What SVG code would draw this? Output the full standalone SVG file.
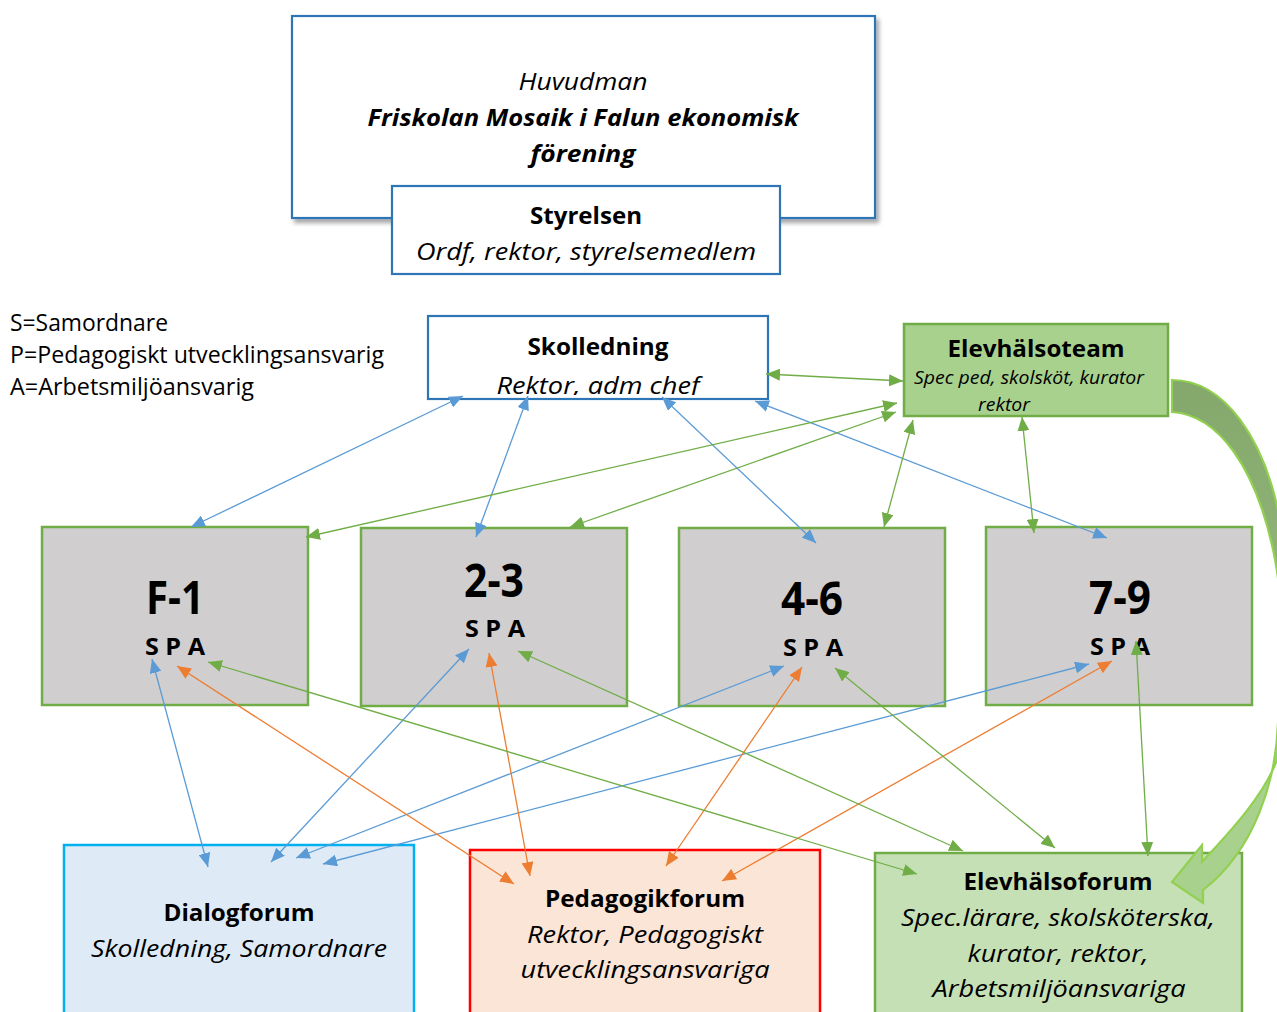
<svg xmlns="http://www.w3.org/2000/svg" width="1277" height="1012" viewBox="0 0 1277 1012">
<defs>
<style>
text{font-family:"Open Sans","Noto Sans","Liberation Sans",sans-serif;fill:#000;text-anchor:middle}
.b{font-weight:bold}
.i{font-style:italic}
.lg{text-anchor:start;font-size:24px}
.t{font-size:24px}
.blue{fill:#fff;stroke:#2e75b6;stroke-width:2.2}
.grade{fill:#d0cece;stroke:#70ad47;stroke-width:2.5}
.big{font-size:46px;font-weight:bold}
.spa{font-size:24px;font-weight:bold}
.cb{stroke:#5b9bd5;stroke-width:1.3;fill:none;marker-start:url(#mb);marker-end:url(#mb)}
.co{stroke:#ed7d31;stroke-width:1.3;fill:none;marker-start:url(#mo);marker-end:url(#mo)}
.cg{stroke:#70ad47;stroke-width:1.3;fill:none;marker-start:url(#mg);marker-end:url(#mg)}
</style>
<marker id="mb" viewBox="0 0 14 12" refX="14" refY="6" markerWidth="14" markerHeight="12" markerUnits="userSpaceOnUse" orient="auto-start-reverse"><path d="M0,0 L14,6 L0,12 Z" fill="#5b9bd5"/></marker>
<marker id="mo" viewBox="0 0 14 12" refX="14" refY="6" markerWidth="14" markerHeight="12" markerUnits="userSpaceOnUse" orient="auto-start-reverse"><path d="M0,0 L14,6 L0,12 Z" fill="#ed7d31"/></marker>
<marker id="mg" viewBox="0 0 14 12" refX="14" refY="6" markerWidth="14" markerHeight="12" markerUnits="userSpaceOnUse" orient="auto-start-reverse"><path d="M0,0 L14,6 L0,12 Z" fill="#70ad47"/></marker>
<filter id="sh" x="-5%" y="-5%" width="115%" height="120%"><feDropShadow dx="3" dy="4" stdDeviation="2" flood-color="#000" flood-opacity="0.35"/></filter>
<clipPath id="skclip"><rect x="428" y="316" width="340" height="79"/></clipPath>
<linearGradient id="cag" x1="0" y1="0" x2="0" y2="1"><stop offset="0" stop-color="#84a76b"/><stop offset="0.45" stop-color="#92b779"/><stop offset="0.6" stop-color="#a9d18e"/><stop offset="1" stop-color="#a9d18e"/></linearGradient>
</defs>
<rect width="1277" height="1012" fill="#fff"/>

<g id="huvudman">
<rect class="blue" x="292" y="16" width="583" height="202" filter="url(#sh)"/>
<text class="t i" x="583" y="90" textLength="129" lengthAdjust="spacingAndGlyphs">Huvudman</text>
<text class="t b i" x="583" y="126" textLength="431" lengthAdjust="spacingAndGlyphs">Friskolan Mosaik i Falun ekonomisk</text>
<text class="t b i" x="583" y="162" textLength="105" lengthAdjust="spacingAndGlyphs">förening</text>
</g>
<g id="styrelsen">
<rect class="blue" x="392" y="186" width="388" height="88"/>
<text class="t b" x="586" y="224" textLength="112" lengthAdjust="spacingAndGlyphs">Styrelsen</text>
<text class="t i" x="586" y="260" textLength="340" lengthAdjust="spacingAndGlyphs">Ordf, rektor, styrelsemedlem</text>
</g>
<g id="legend">
<text class="lg" x="10" y="331" textLength="158" lengthAdjust="spacingAndGlyphs">S=Samordnare</text>
<text class="lg" x="10" y="363" textLength="374" lengthAdjust="spacingAndGlyphs">P=Pedagogiskt utvecklingsansvarig</text>
<text class="lg" x="10" y="395" textLength="244" lengthAdjust="spacingAndGlyphs">A=Arbetsmiljöansvarig</text>
</g>
<g id="skolledning">
<rect class="blue" x="428" y="316" width="340" height="83"/>
<text class="t b" x="598" y="355" textLength="141" lengthAdjust="spacingAndGlyphs">Skolledning</text>
<text class="t i" x="598" y="394" textLength="203" lengthAdjust="spacingAndGlyphs" clip-path="url(#skclip)">Rektor, adm chef</text>
</g>
<g id="elevhalsoteam">
<rect x="904" y="324" width="264" height="92" fill="#a9d18e" stroke="#70ad47" stroke-width="2.5"/>
<text class="b" style="font-size:23px" x="1036" y="357" textLength="177" lengthAdjust="spacingAndGlyphs">Elevhälsoteam</text>
<text class="i" style="font-size:18px" x="1029" y="384" textLength="230" lengthAdjust="spacingAndGlyphs">Spec ped, skolsköt, kurator</text>
<text class="i" style="font-size:18px" x="1004" y="411" textLength="52" lengthAdjust="spacingAndGlyphs">rektor</text>
</g>
<g id="f-1">
<rect class="grade" x="42" y="527" width="266" height="178"/>
<text class="big" x="175" y="614" textLength="58" lengthAdjust="spacingAndGlyphs">F-1</text>
<text class="spa" x="175" y="655" textLength="60" lengthAdjust="spacingAndGlyphs">S P A</text>
</g>
<g id="g2-3">
<rect class="grade" x="361" y="528" width="266" height="178"/>
<text class="big" x="494" y="597" textLength="60" lengthAdjust="spacingAndGlyphs">2-3</text>
<text class="spa" x="495" y="637" textLength="60" lengthAdjust="spacingAndGlyphs">S P A</text>
</g>
<g id="g4-6">
<rect class="grade" x="679" y="528" width="266" height="178"/>
<text class="big" x="812" y="615" textLength="62" lengthAdjust="spacingAndGlyphs">4-6</text>
<text class="spa" x="813" y="656" textLength="60" lengthAdjust="spacingAndGlyphs">S P A</text>
</g>
<g id="g7-9">
<rect class="grade" x="986" y="527" width="266" height="178"/>
<text class="big" x="1120" y="614" textLength="62" lengthAdjust="spacingAndGlyphs">7-9</text>
<text class="spa" x="1120" y="655" textLength="60" lengthAdjust="spacingAndGlyphs">S P A</text>
</g>
<g id="dialogforum">
<rect x="64" y="845" width="350" height="190" fill="#deebf7" stroke="#00b0f0" stroke-width="2.5"/>
<text class="t b" x="239" y="921" textLength="151" lengthAdjust="spacingAndGlyphs">Dialogforum</text>
<text class="t i" x="239" y="957" textLength="296" lengthAdjust="spacingAndGlyphs">Skolledning, Samordnare</text>
</g>
<g id="pedagogikforum">
<rect x="470" y="850" width="350" height="190" fill="#fbe5d6" stroke="#ff0000" stroke-width="2.5"/>
<text class="t b" x="645" y="907" textLength="200" lengthAdjust="spacingAndGlyphs">Pedagogikforum</text>
<text class="t i" x="645" y="943" textLength="236" lengthAdjust="spacingAndGlyphs">Rektor, Pedagogiskt</text>
<text class="t i" x="645" y="978" textLength="249" lengthAdjust="spacingAndGlyphs">utvecklingsansvariga</text>
</g>
<g id="elevhalsoforum">
<rect x="875" y="853" width="367" height="190" fill="#c5e0b4" stroke="#70ad47" stroke-width="2.5"/>
<text class="t b" x="1058" y="890" textLength="189" lengthAdjust="spacingAndGlyphs">Elevhälsoforum</text>
<text class="t i" x="1058" y="926" textLength="314" lengthAdjust="spacingAndGlyphs">Spec.lärare, skolsköterska,</text>
<text class="t i" x="1058" y="962" textLength="181" lengthAdjust="spacingAndGlyphs">kurator, rektor,</text>
<text class="t i" x="1059" y="997" textLength="253" lengthAdjust="spacingAndGlyphs">Arbetsmiljöansvariga</text>
</g>

<g id="connectors">
<line class="cb" x1="463" y1="396" x2="191" y2="527"/>
<line class="cb" x1="528" y1="396" x2="476" y2="537"/>
<line class="cb" x1="662" y1="397" x2="816" y2="543"/>
<line class="cb" x1="755" y1="401" x2="1107" y2="538"/>
<line class="cg" x1="766" y1="374" x2="903" y2="381"/>
<line class="cg" x1="897" y1="403" x2="306" y2="537"/>
<line class="cg" x1="896" y1="412" x2="570" y2="527"/>
<line class="cg" x1="913" y1="420" x2="884" y2="527"/>
<line class="cg" x1="1022" y1="417" x2="1034" y2="533"/>
<line class="cb" x1="152" y1="659" x2="208" y2="867"/>
<line class="cb" x1="469" y1="649" x2="271" y2="862"/>
<line class="cb" x1="784" y1="666" x2="296" y2="858"/>
<line class="cb" x1="1089" y1="664" x2="323" y2="864"/>
<line class="co" x1="177" y1="666" x2="514" y2="884"/>
<line class="co" x1="489" y1="653" x2="530" y2="876"/>
<line class="co" x1="802" y1="667" x2="666" y2="866"/>
<line class="co" x1="1112" y1="661" x2="722" y2="881"/>
<line class="cg" x1="208" y1="662" x2="917" y2="874"/>
<line class="cg" x1="518" y1="651" x2="963" y2="851"/>
<line class="cg" x1="835" y1="668" x2="1055" y2="848"/>
<line class="cg" x1="1136" y1="641" x2="1148" y2="856"/>
</g>

<g id="curved-arrow">
<path d="M1172,380 C1225,380 1265,440 1280,520 C1293,590 1292,670 1278,723 C1276,780 1255,850 1203,890 L1203,903 L1172,882 L1202,845 L1202,862 C1222,840 1262,800 1277,760 C1287,700 1285,600 1272,545 C1255,470 1220,415 1172,412 Z" fill="url(#cag)" stroke="#92d050" stroke-width="2.2" stroke-linejoin="miter"/>
</g>
</svg>
